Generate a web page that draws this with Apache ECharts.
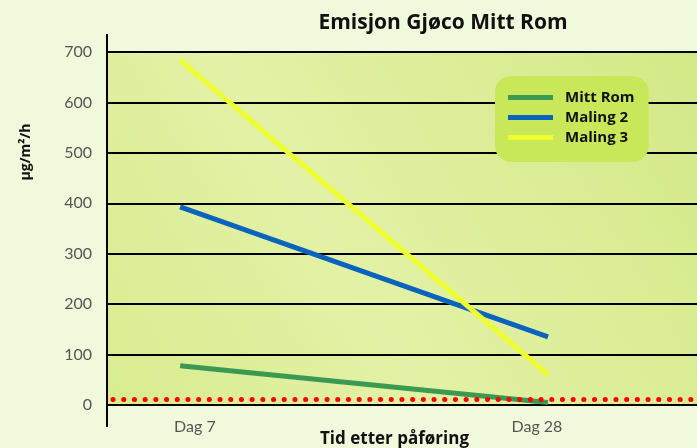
<!DOCTYPE html>
<html>
<head>
<meta charset="utf-8">
<script src="https://cdn.jsdelivr.net/npm/echarts@6/dist/echarts.min.js"></script>
<style>
  html, body { margin: 0; padding: 0; background: #f1f9dc; }
  #chart { width: 697px; height: 448px; }
</style>
</head>
<body>
<div id="chart"></div>
<script>
var days = ['Dag 7', 'Dag 28']
var mittRom = [78, 5]
var maling2 = [393, 135]
var maling3 = [684, 60]
var grenseVerdi = 12
var yMax = 700
var yStep = 100

var font = 'Lato, "DejaVu Sans", sans-serif'
var boldFont = '"Open Sans", Lato, sans-serif'

function pairs(arr) {
    return arr.map(function (v, i) { return [i, v] })
}

var chart = echarts.init(document.getElementById('chart'))
var option = {
    backgroundColor: '#f1f9dc',
    animation: false,
    title: {
        text: 'Emisjon Gjøco Mitt Rom',
        left: 438,
        top: 8,
        textAlign: 'center',
        textStyle: { fontFamily: boldFont, fontWeight: 'bold', fontSize: 21, color: '#111' }
    },
    legend: {
        data: ['Mitt Rom', 'Maling 2', 'Maling 3'],
        orient: 'vertical',
        left: 495,
        top: 76,
        backgroundColor: '#c8e85a',
        borderRadius: 16,
        padding: [14, 14, 17, 13],
        itemWidth: 45,
        itemHeight: 5,
        itemGap: 5,
        icon: 'rect',
        textStyle: { fontFamily: boldFont, fontWeight: 'bold', fontSize: 15, color: '#111', padding: [0, 0, 0, 7] }
    },
    grid: {
        left: 108,
        right: 0,
        top: 52,
        bottom: 43,
        outerBoundsMode: 'none',
        show: true,
        borderWidth: 0,
        backgroundColor: new echarts.graphic.LinearGradient(1, 0, 0, 1, [
            { offset: 0, color: '#d3e987' },
            { offset: 0.6, color: '#e3f1a6' },
            { offset: 1, color: '#d8ec8f' }
        ])
    },
    xAxis: [
        {
            // axis for the lines
            type: 'value',
            min: -0.196,
            max: 1.405,
            show: false
        },
        {
            // axis for the labels
            type: 'value',
            min: -0.254,
            max: 1.468,
            position: 'bottom',
            axisLine: { show: false },
            axisTick: { show: false },
            splitLine: { show: false },
            axisLabel: {
                customValues: [0, 1],
                formatter: function (v) { return days[Math.round(v)] },
                fontFamily: font,
                fontSize: 16,
                color: '#555',
                margin: 14
            },
            name: 'Tid etter påføring',
            nameLocation: 'middle',
            nameGap: 26,
            nameMoveOverlap: false,
            nameTextStyle: { fontFamily: boldFont, fontWeight: 'bold', fontSize: 17, color: '#111', verticalAlign: 'top', padding: [0, 16, 0, 0] }
        }
    ],
    yAxis: {
        type: 'value',
        min: 0,
        max: yMax,
        interval: yStep,
        axisLine: { show: false },
        axisTick: { show: true, length: 5, lineStyle: { color: '#000', width: 2 } },
        splitLine: { lineStyle: { color: '#000', width: 2 } },
        axisLabel: { fontFamily: font, fontSize: 16, color: '#555', margin: 16 }
    },
    graphic: [
        {
            type: 'line',
            shape: { x1: 107, y1: 34, x2: 107, y2: 427 },
            style: { stroke: '#000', lineWidth: 2 },
            z: 100
        },
        {
            type: 'text',
            x: 26,
            y: 152,
            rotation: Math.PI / 2,
            style: {
                text: 'µg/m²/h',
                fontFamily: boldFont,
                fontWeight: 'bold',
                fontSize: 14,
                fill: '#111',
                textAlign: 'center',
                textVerticalAlign: 'middle'
            }
        }
    ],
    series: [
        {
            name: 'Mitt Rom',
            type: 'line',
            xAxisIndex: 0,
            data: pairs(mittRom),
            symbol: 'none',
            color: '#3a9a52',
            lineStyle: { width: 5 },
            z: 3,
            markLine: {
                silent: true,
                symbol: ['none', 'none'],
                label: { show: false },
                lineStyle: { color: '#ff0000', width: 5, type: [0.1, 10.6], cap: 'round', dashOffset: -5 },
                data: [{ yAxis: grenseVerdi }]
            }
        },
        {
            name: 'Maling 2',
            type: 'line',
            xAxisIndex: 0,
            data: pairs(maling2),
            symbol: 'none',
            color: '#0a64bd',
            lineStyle: { width: 5 },
            z: 4
        },
        {
            name: 'Maling 3',
            type: 'line',
            xAxisIndex: 0,
            data: pairs(maling3),
            symbol: 'none',
            color: '#eeff30',
            lineStyle: { width: 5 },
            z: 5
        }
    ]
}
chart.setOption(option)
window.addEventListener('resize', function () {
    chart.resize()
})
</script>
</body>
</html>
